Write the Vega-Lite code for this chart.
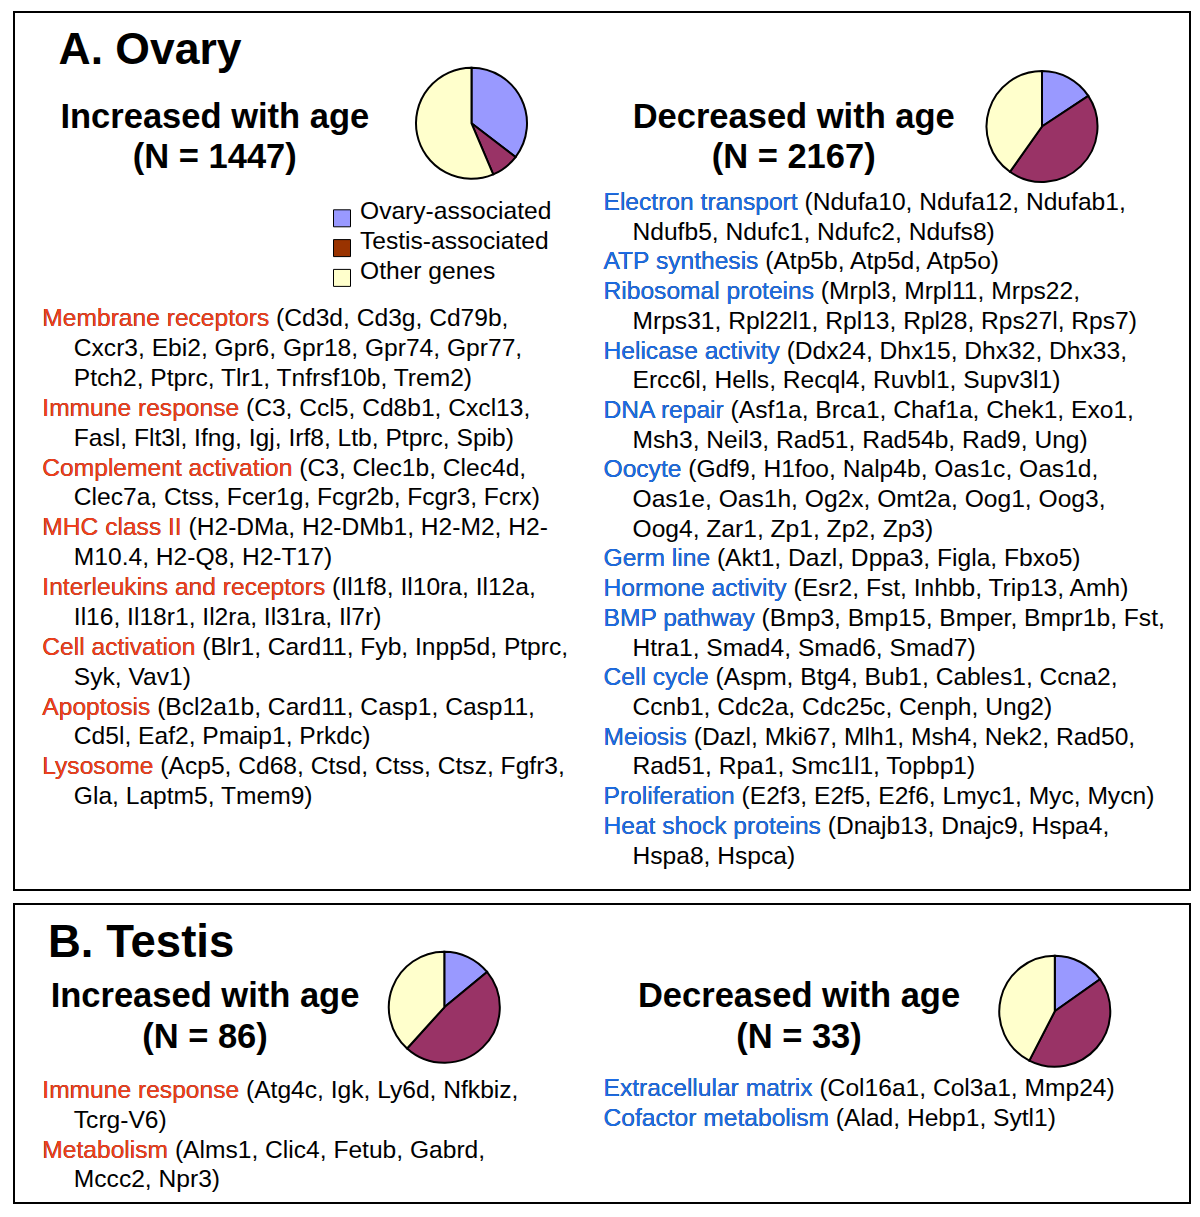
{
  "$schema": "https://vega.github.io/schema/vega-lite/v6.json",
  "background": "white",
  "padding": {"left": 13, "top": 11, "right": 0, "bottom": 0},
  "bounds": "flush",
  "spacing": 14,
  "config": {
    "font": "Liberation Sans",
    "view": {"stroke": "#000", "strokeWidth": 2},
    "text": {"font": "Liberation Sans"}
  },
  "datasets": {
    "aHead": [{"label": "A. Ovary"}],
    "aSub": [
      {"side": "Increased", "line": 0, "label": "Increased with age"},
      {"side": "Increased", "line": 1, "label": "(N = 1447)"},
      {"side": "Decreased", "line": 0, "label": "Decreased with age"},
      {"side": "Decreased", "line": 1, "label": "(N = 2167)"}
    ],
    "aPieInc": [
      {"side": "Increased", "group": "Ovary-associated", "share": 35.4, "k": 1},
      {"side": "Increased", "group": "Testis-associated", "share": 8.2, "k": 2},
      {"side": "Increased", "group": "Other genes", "share": 56.4, "k": 3}
    ],
    "aPieDec": [
      {"side": "Decreased", "group": "Ovary-associated", "share": 15.7, "k": 1},
      {"side": "Decreased", "group": "Testis-associated", "share": 44.1, "k": 2},
      {"side": "Decreased", "group": "Other genes", "share": 40.2, "k": 3}
    ],
    "legend": [
      {"line": 0, "label": "Ovary-associated"},
      {"line": 1, "label": "Testis-associated"},
      {"line": 2, "label": "Other genes"}
    ],
    "aInc": [
      {"line": 0, "indent": 0, "category": "Membrane receptors", "text": "Membrane receptors (Cd3d, Cd3g, Cd79b,"},
      {"line": 1, "indent": 1, "text": "Cxcr3, Ebi2, Gpr6, Gpr18, Gpr74, Gpr77,"},
      {"line": 2, "indent": 1, "text": "Ptch2, Ptprc, Tlr1, Tnfrsf10b, Trem2)"},
      {"line": 3, "indent": 0, "category": "Immune response", "text": "Immune response (C3, Ccl5, Cd8b1, Cxcl13,"},
      {"line": 4, "indent": 1, "text": "Fasl, Flt3l, Ifng, Igj, Irf8, Ltb, Ptprc, Spib)"},
      {"line": 5, "indent": 0, "category": "Complement activation", "text": "Complement activation (C3, Clec1b, Clec4d,"},
      {"line": 6, "indent": 1, "text": "Clec7a, Ctss, Fcer1g, Fcgr2b, Fcgr3, Fcrx)"},
      {"line": 7, "indent": 0, "category": "MHC class II", "text": "MHC class II (H2-DMa, H2-DMb1, H2-M2, H2-"},
      {"line": 8, "indent": 1, "text": "M10.4, H2-Q8, H2-T17)"},
      {"line": 9, "indent": 0, "category": "Interleukins and receptors", "text": "Interleukins and receptors (Il1f8, Il10ra, Il12a,"},
      {"line": 10, "indent": 1, "text": "Il16, Il18r1, Il2ra, Il31ra, Il7r)"},
      {"line": 11, "indent": 0, "category": "Cell activation", "text": "Cell activation (Blr1, Card11, Fyb, Inpp5d, Ptprc,"},
      {"line": 12, "indent": 1, "text": "Syk, Vav1)"},
      {"line": 13, "indent": 0, "category": "Apoptosis", "text": "Apoptosis (Bcl2a1b, Card11, Casp1, Casp11,"},
      {"line": 14, "indent": 1, "text": "Cd5l, Eaf2, Pmaip1, Prkdc)"},
      {"line": 15, "indent": 0, "category": "Lysosome", "text": "Lysosome (Acp5, Cd68, Ctsd, Ctss, Ctsz, Fgfr3,"},
      {"line": 16, "indent": 1, "text": "Gla, Laptm5, Tmem9)"}
    ],
    "aDec": [
      {"line": 0, "indent": 0, "category": "Electron transport", "text": "Electron transport (Ndufa10, Ndufa12, Ndufab1,"},
      {"line": 1, "indent": 1, "text": "Ndufb5, Ndufc1, Ndufc2, Ndufs8)"},
      {"line": 2, "indent": 0, "category": "ATP synthesis", "text": "ATP synthesis (Atp5b, Atp5d, Atp5o)"},
      {"line": 3, "indent": 0, "category": "Ribosomal proteins", "text": "Ribosomal proteins (Mrpl3, Mrpl11, Mrps22,"},
      {"line": 4, "indent": 1, "text": "Mrps31, Rpl22l1, Rpl13, Rpl28, Rps27l, Rps7)"},
      {"line": 5, "indent": 0, "category": "Helicase activity", "text": "Helicase activity (Ddx24, Dhx15, Dhx32, Dhx33,"},
      {"line": 6, "indent": 1, "text": "Ercc6l, Hells, Recql4, Ruvbl1, Supv3l1)"},
      {"line": 7, "indent": 0, "category": "DNA repair", "text": "DNA repair (Asf1a, Brca1, Chaf1a, Chek1, Exo1,"},
      {"line": 8, "indent": 1, "text": "Msh3, Neil3, Rad51, Rad54b, Rad9, Ung)"},
      {"line": 9, "indent": 0, "category": "Oocyte", "text": "Oocyte (Gdf9, H1foo, Nalp4b, Oas1c, Oas1d,"},
      {"line": 10, "indent": 1, "text": "Oas1e, Oas1h, Og2x, Omt2a, Oog1, Oog3,"},
      {"line": 11, "indent": 1, "text": "Oog4, Zar1, Zp1, Zp2, Zp3)"},
      {"line": 12, "indent": 0, "category": "Germ line", "text": "Germ line (Akt1, Dazl, Dppa3, Figla, Fbxo5)"},
      {"line": 13, "indent": 0, "category": "Hormone activity", "text": "Hormone activity (Esr2, Fst, Inhbb, Trip13, Amh)"},
      {"line": 14, "indent": 0, "category": "BMP pathway", "text": "BMP pathway (Bmp3, Bmp15, Bmper, Bmpr1b, Fst,"},
      {"line": 15, "indent": 1, "text": "Htra1, Smad4, Smad6, Smad7)"},
      {"line": 16, "indent": 0, "category": "Cell cycle", "text": "Cell cycle (Aspm, Btg4, Bub1, Cables1, Ccna2,"},
      {"line": 17, "indent": 1, "text": "Ccnb1, Cdc2a, Cdc25c, Cenph, Ung2)"},
      {"line": 18, "indent": 0, "category": "Meiosis", "text": "Meiosis (Dazl, Mki67, Mlh1, Msh4, Nek2, Rad50,"},
      {"line": 19, "indent": 1, "text": "Rad51, Rpa1, Smc1l1, Topbp1)"},
      {"line": 20, "indent": 0, "category": "Proliferation", "text": "Proliferation (E2f3, E2f5, E2f6, Lmyc1, Myc, Mycn)"},
      {"line": 21, "indent": 0, "category": "Heat shock proteins", "text": "Heat shock proteins (Dnajb13, Dnajc9, Hspa4,"},
      {"line": 22, "indent": 1, "text": "Hspa8, Hspca)"}
    ],
    "bHead": [{"label": "B. Testis"}],
    "bSub": [
      {"side": "Increased", "line": 0, "label": "Increased with age"},
      {"side": "Increased", "line": 1, "label": "(N = 86)"},
      {"side": "Decreased", "line": 0, "label": "Decreased with age"},
      {"side": "Decreased", "line": 1, "label": "(N = 33)"}
    ],
    "bPieInc": [
      {"side": "Increased", "group": "Ovary-associated", "share": 14.0, "k": 1},
      {"side": "Increased", "group": "Testis-associated", "share": 47.7, "k": 2},
      {"side": "Increased", "group": "Other genes", "share": 38.3, "k": 3}
    ],
    "bPieDec": [
      {"side": "Decreased", "group": "Ovary-associated", "share": 15.2, "k": 1},
      {"side": "Decreased", "group": "Testis-associated", "share": 42.4, "k": 2},
      {"side": "Decreased", "group": "Other genes", "share": 42.4, "k": 3}
    ],
    "bInc": [
      {"line": 0, "indent": 0, "category": "Immune response", "text": "Immune response (Atg4c, Igk, Ly6d, Nfkbiz,"},
      {"line": 1, "indent": 1, "text": "Tcrg-V6)"},
      {"line": 2, "indent": 0, "category": "Metabolism", "text": "Metabolism (Alms1, Clic4, Fetub, Gabrd,"},
      {"line": 3, "indent": 1, "text": "Mccc2, Npr3)"}
    ],
    "bDec": [
      {"line": 0, "indent": 0, "category": "Extracellular matrix", "text": "Extracellular matrix (Col16a1, Col3a1, Mmp24)"},
      {"line": 1, "indent": 0, "category": "Cofactor metabolism", "text": "Cofactor metabolism (Alad, Hebp1, Sytl1)"}
    ]
  },
  "vconcat": [
    {
      "width": 1176,
      "height": 878,
      "resolve": {"scale": {"x": "independent", "y": "independent", "color": "independent", "theta": "independent"}},
      "layer": [
        {
          "data": {"name": "aHead"},
          "mark": {"type": "text", "fontSize": 44.5, "fontWeight": "bold", "align": "left", "baseline": "alphabetic", "color": "#000"},
          "encoding": {
            "x": {"datum": 0, "type": "quantitative", "scale": {"domain": [0, 1], "range": [44.5, 100]}, "axis": null},
            "y": {"datum": 0, "type": "quantitative", "scale": {"domain": [0, 1], "range": [51.7, 100]}, "axis": null},
            "text": {"field": "label"}
          }
        },
        {
          "data": {"name": "aSub"},
          "mark": {"type": "text", "fontSize": 34.5, "fontWeight": "bold", "align": "center", "baseline": "alphabetic", "color": "#000"},
          "encoding": {
            "x": {"field": "side", "type": "nominal", "scale": {"type": "point", "domain": ["Increased", "Decreased"], "range": [200.8, 779.7], "padding": 0}, "axis": null},
            "y": {"field": "line", "type": "quantitative", "scale": {"domain": [0, 1], "range": [116, 156], "zero": false, "nice": false}, "axis": null},
            "text": {"field": "label"}
          }
        },
        {
          "data": {"name": "aPieInc"},
          "mark": {"type": "arc", "outerRadius": 55.5, "stroke": "#000", "strokeWidth": 2},
          "encoding": {
            "theta": {"field": "share", "type": "quantitative", "stack": true},
            "order": {"field": "k", "type": "quantitative"},
            "color": {"field": "group", "type": "nominal", "scale": {"domain": ["Ovary-associated", "Testis-associated", "Other genes"], "range": ["#9999FF", "#993366", "#FFFFCC"]}, "legend": null},
            "x": {"field": "side", "type": "nominal", "scale": {"type": "point", "domain": ["Increased", "Decreased"], "range": [457.5, 1028], "padding": 0}, "axis": null},
            "y": {"field": "side", "type": "nominal", "scale": {"type": "point", "domain": ["Increased", "Decreased"], "range": [111.3, 114.5], "padding": 0}, "axis": null}
          }
        },
        {
          "data": {"name": "aPieDec"},
          "mark": {"type": "arc", "outerRadius": 55.5, "stroke": "#000", "strokeWidth": 2},
          "encoding": {
            "theta": {"field": "share", "type": "quantitative", "stack": true},
            "order": {"field": "k", "type": "quantitative"},
            "color": {"field": "group", "type": "nominal", "scale": {"domain": ["Ovary-associated", "Testis-associated", "Other genes"], "range": ["#9999FF", "#993366", "#FFFFCC"]}, "legend": null},
            "x": {"field": "side", "type": "nominal", "scale": {"type": "point", "domain": ["Increased", "Decreased"], "range": [457.5, 1028], "padding": 0}, "axis": null},
            "y": {"field": "side", "type": "nominal", "scale": {"type": "point", "domain": ["Increased", "Decreased"], "range": [111.3, 114.5], "padding": 0}, "axis": null}
          }
        },
        {
          "data": {"name": "legend"},
          "mark": {"type": "point", "shape": "square", "filled": true, "size": 289, "stroke": "#000", "strokeWidth": 1, "opacity": 1},
          "encoding": {
            "x": {"datum": 0, "type": "quantitative", "scale": {"domain": [0, 1], "range": [328, 400]}, "axis": null},
            "y": {"field": "line", "type": "quantitative", "scale": {"domain": [0, 2], "range": [206.3, 265.9], "zero": false, "nice": false}, "axis": null},
            "fill": {"field": "label", "type": "nominal", "scale": {"domain": ["Ovary-associated", "Testis-associated", "Other genes"], "range": ["#9999FF", "#993300", "#FFFFCC"]}, "legend": null}
          }
        },
        {
          "data": {"name": "legend"},
          "mark": {"type": "text", "fontSize": 24.6, "align": "left", "baseline": "alphabetic", "color": "#000"},
          "encoding": {
            "x": {"datum": 0, "type": "quantitative", "scale": {"domain": [0, 1], "range": [346, 400]}, "axis": null},
            "y": {"field": "line", "type": "quantitative", "scale": {"domain": [0, 2], "range": [207, 266.6], "zero": false, "nice": false}, "axis": null},
            "text": {"field": "label"}
          }
        },
        {
          "data": {"name": "aInc"},
          "mark": {"type": "text", "fontSize": 24.6, "align": "left", "baseline": "alphabetic", "color": "#000"},
          "encoding": {
            "x": {"field": "indent", "type": "quantitative", "scale": {"domain": [0, 1], "range": [28.3, 59.8], "zero": false, "nice": false}, "axis": null},
            "y": {"field": "line", "type": "quantitative", "scale": {"domain": [0, 16], "range": [314.3, 792.1], "zero": false, "nice": false}, "axis": null},
            "text": {"field": "text"}
          }
        },
        {
          "data": {"name": "aInc"},
          "transform": [{"filter": "datum.category"}],
          "mark": {"type": "text", "fontSize": 24.6, "align": "left", "baseline": "alphabetic", "color": "#F4401C"},
          "encoding": {
            "x": {"field": "indent", "type": "quantitative", "scale": {"domain": [0, 1], "range": [28.3, 59.8], "zero": false, "nice": false}, "axis": null},
            "y": {"field": "line", "type": "quantitative", "scale": {"domain": [0, 16], "range": [314.3, 792.1], "zero": false, "nice": false}, "axis": null},
            "text": {"field": "category"}
          }
        },
        {
          "data": {"name": "aDec"},
          "mark": {"type": "text", "fontSize": 24.6, "align": "left", "baseline": "alphabetic", "color": "#000"},
          "encoding": {
            "x": {"field": "indent", "type": "quantitative", "scale": {"domain": [0, 1], "range": [589.5, 618.5], "zero": false, "nice": false}, "axis": null},
            "y": {"field": "line", "type": "quantitative", "scale": {"domain": [0, 22], "range": [198, 851.5], "zero": false, "nice": false}, "axis": null},
            "text": {"field": "text"}
          }
        },
        {
          "data": {"name": "aDec"},
          "transform": [{"filter": "datum.category"}],
          "mark": {"type": "text", "fontSize": 24.6, "align": "left", "baseline": "alphabetic", "color": "#1C6EE8"},
          "encoding": {
            "x": {"field": "indent", "type": "quantitative", "scale": {"domain": [0, 1], "range": [589.5, 618.5], "zero": false, "nice": false}, "axis": null},
            "y": {"field": "line", "type": "quantitative", "scale": {"domain": [0, 22], "range": [198, 851.5], "zero": false, "nice": false}, "axis": null},
            "text": {"field": "category"}
          }
        }
      ]
    },
    {
      "width": 1176,
      "height": 299,
      "resolve": {"scale": {"x": "independent", "y": "independent", "color": "independent", "theta": "independent"}},
      "layer": [
        {
          "data": {"name": "bHead"},
          "mark": {"type": "text", "fontSize": 45.5, "fontWeight": "bold", "align": "left", "baseline": "alphabetic", "color": "#000"},
          "encoding": {
            "x": {"datum": 0, "type": "quantitative", "scale": {"domain": [0, 1], "range": [34, 100]}, "axis": null},
            "y": {"datum": 0, "type": "quantitative", "scale": {"domain": [0, 1], "range": [52.5, 100]}, "axis": null},
            "text": {"field": "label"}
          }
        },
        {
          "data": {"name": "bSub"},
          "mark": {"type": "text", "fontSize": 34.5, "fontWeight": "bold", "align": "center", "baseline": "alphabetic", "color": "#000"},
          "encoding": {
            "x": {"field": "side", "type": "nominal", "scale": {"type": "point", "domain": ["Increased", "Decreased"], "range": [191, 785], "padding": 0}, "axis": null},
            "y": {"field": "line", "type": "quantitative", "scale": {"domain": [0, 1], "range": [102.7, 144.3], "zero": false, "nice": false}, "axis": null},
            "text": {"field": "label"}
          }
        },
        {
          "data": {"name": "bPieInc"},
          "mark": {"type": "arc", "outerRadius": 55.5, "stroke": "#000", "strokeWidth": 2},
          "encoding": {
            "theta": {"field": "share", "type": "quantitative", "stack": true},
            "order": {"field": "k", "type": "quantitative"},
            "color": {"field": "group", "type": "nominal", "scale": {"domain": ["Ovary-associated", "Testis-associated", "Other genes"], "range": ["#9999FF", "#993366", "#FFFFCC"]}, "legend": null},
            "x": {"field": "side", "type": "nominal", "scale": {"type": "point", "domain": ["Increased", "Decreased"], "range": [430.3, 1040.8], "padding": 0}, "axis": null},
            "y": {"field": "side", "type": "nominal", "scale": {"type": "point", "domain": ["Increased", "Decreased"], "range": [103.3, 107.3], "padding": 0}, "axis": null}
          }
        },
        {
          "data": {"name": "bPieDec"},
          "mark": {"type": "arc", "outerRadius": 55.5, "stroke": "#000", "strokeWidth": 2},
          "encoding": {
            "theta": {"field": "share", "type": "quantitative", "stack": true},
            "order": {"field": "k", "type": "quantitative"},
            "color": {"field": "group", "type": "nominal", "scale": {"domain": ["Ovary-associated", "Testis-associated", "Other genes"], "range": ["#9999FF", "#993366", "#FFFFCC"]}, "legend": null},
            "x": {"field": "side", "type": "nominal", "scale": {"type": "point", "domain": ["Increased", "Decreased"], "range": [430.3, 1040.8], "padding": 0}, "axis": null},
            "y": {"field": "side", "type": "nominal", "scale": {"type": "point", "domain": ["Increased", "Decreased"], "range": [103.3, 107.3], "padding": 0}, "axis": null}
          }
        },
        {
          "data": {"name": "bInc"},
          "mark": {"type": "text", "fontSize": 24.6, "align": "left", "baseline": "alphabetic", "color": "#000"},
          "encoding": {
            "x": {"field": "indent", "type": "quantitative", "scale": {"domain": [0, 1], "range": [28.3, 59.8], "zero": false, "nice": false}, "axis": null},
            "y": {"field": "line", "type": "quantitative", "scale": {"domain": [0, 3], "range": [194, 283.4], "zero": false, "nice": false}, "axis": null},
            "text": {"field": "text"}
          }
        },
        {
          "data": {"name": "bInc"},
          "transform": [{"filter": "datum.category"}],
          "mark": {"type": "text", "fontSize": 24.6, "align": "left", "baseline": "alphabetic", "color": "#F4401C"},
          "encoding": {
            "x": {"field": "indent", "type": "quantitative", "scale": {"domain": [0, 1], "range": [28.3, 59.8], "zero": false, "nice": false}, "axis": null},
            "y": {"field": "line", "type": "quantitative", "scale": {"domain": [0, 3], "range": [194, 283.4], "zero": false, "nice": false}, "axis": null},
            "text": {"field": "category"}
          }
        },
        {
          "data": {"name": "bDec"},
          "mark": {"type": "text", "fontSize": 24.6, "align": "left", "baseline": "alphabetic", "color": "#000"},
          "encoding": {
            "x": {"field": "indent", "type": "quantitative", "scale": {"domain": [0, 1], "range": [589.5, 618.5], "zero": false, "nice": false}, "axis": null},
            "y": {"field": "line", "type": "quantitative", "scale": {"domain": [0, 1], "range": [192, 221.8], "zero": false, "nice": false}, "axis": null},
            "text": {"field": "text"}
          }
        },
        {
          "data": {"name": "bDec"},
          "transform": [{"filter": "datum.category"}],
          "mark": {"type": "text", "fontSize": 24.6, "align": "left", "baseline": "alphabetic", "color": "#1C6EE8"},
          "encoding": {
            "x": {"field": "indent", "type": "quantitative", "scale": {"domain": [0, 1], "range": [589.5, 618.5], "zero": false, "nice": false}, "axis": null},
            "y": {"field": "line", "type": "quantitative", "scale": {"domain": [0, 1], "range": [192, 221.8], "zero": false, "nice": false}, "axis": null},
            "text": {"field": "category"}
          }
        }
      ]
    }
  ]
}
